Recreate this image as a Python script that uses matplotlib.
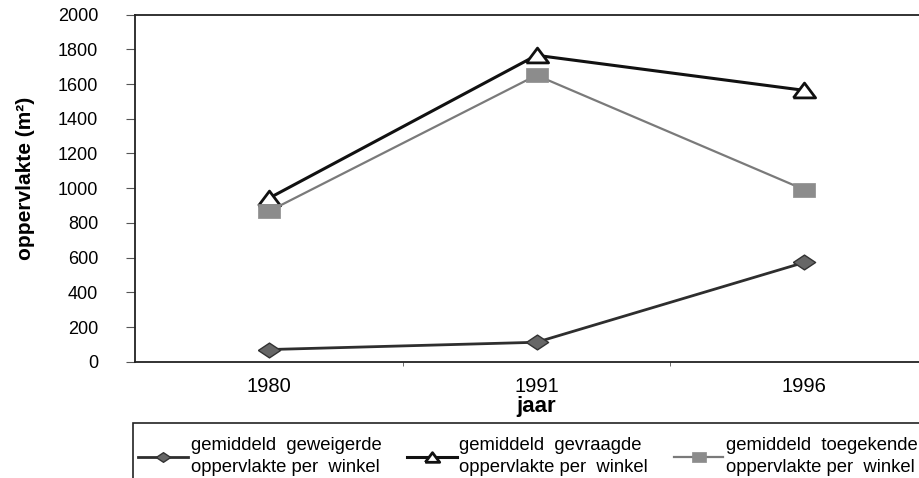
import matplotlib.pyplot as plt
from matplotlib.patches import Rectangle

plt.rcParams['font.family'] = ['Liberation Sans', 'DejaVu Sans']

# data
years = ["1980", "1991", "1996"]
geweigerd = [70, 112, 572]
gevraagd = [942, 1766, 1564]
toegekend = [867, 1651, 992]
yticks = [0, 200, 400, 600, 800, 1000, 1200, 1400, 1600, 1800, 2000]
legend_labels = [
    "gemiddeld  geweigerde\noppervlakte per  winkel",
    "gemiddeld  gevraagde\noppervlakte per  winkel",
    "gemiddeld  toegekende\noppervlakte per  winkel",
]

# wide markers like in the scan (wider than tall)
diamond = [(-1.5, 0), (0, 1), (1.5, 0), (0, -1), (-1.5, 0)]
triangle = [(-1.5, -1), (1.5, -1), (0, 1), (-1.5, -1)]
square = [(-1.5, -1), (1.5, -1), (1.5, 1), (-1.5, 1), (-1.5, -1)]

fig = plt.figure(figsize=(9.19, 4.78), dpi=100)
ax = fig.add_axes([135 / 919, 1 - 361.7 / 478, (938 - 135) / 919, 347 / 478])

x = range(len(years))
ax.plot(x, geweigerd, color="#2e2e2e", lw=2.0, marker=diamond, ms=16,
        mfc="#666666", mec="#333333", mew=1.0, label=legend_labels[0])
ax.plot(x, gevraagd, color="#111111", lw=2.2, marker=triangle, ms=16,
        mfc="white", mec="#111111", mew=2.0, label=legend_labels[1])
ax.plot(x, toegekend, color="#7a7a7a", lw=1.6, marker=square, ms=16,
        mfc="#8c8c8c", mec="#8c8c8c", mew=0.5, label=legend_labels[2])

ax.set_xlim(-0.5, 2.5)
ax.set_ylim(0, 2000)
ax.set_yticks(yticks)
ax.set_xticks(list(x))
ax.set_xticklabels(years, fontsize=14.5)
ax.set_xticks([0.5, 1.5], minor=True)
ax.tick_params(axis='x', which='major', length=0, pad=11)
ax.tick_params(axis='x', which='minor', length=3, direction='out', color='#555555')
ax.tick_params(axis='y', length=6.5, direction='out', pad=20, labelsize=13, color='#555555')

ax.spines['right'].set_visible(False)
for s in ['left', 'bottom', 'top']:
    ax.spines[s].set_linewidth(1.3)
    ax.spines[s].set_color('#222222')

ax.set_ylabel("oppervlakte (m²)", fontsize=15, fontweight='bold')
ax.yaxis.set_label_coords(-0.1245, 0.529)
ax.set_xlabel("jaar", fontsize=16, fontweight='bold', labelpad=0)

# legend frame runs off the right and bottom edge like in the scan
fig.patches.append(Rectangle((133 / 919, -0.2), 1.0, 1 - 423 / 478 + 0.2,
                             transform=fig.transFigure, fill=False,
                             ec='#222222', lw=1.2))
leg = fig.legend(loc='upper left', bbox_to_anchor=(138 / 919, 0, (918 - 138) / 919, 1 - 437 / 478),
                 mode='expand', ncol=3, fontsize=13.3, frameon=False, markerscale=0.65,
                 handlelength=2.7, handletextpad=0.15, borderaxespad=0, borderpad=0)
for t in leg.get_texts():
    t.set_linespacing(1.4)

fig.savefig("out.png", dpi=100)
